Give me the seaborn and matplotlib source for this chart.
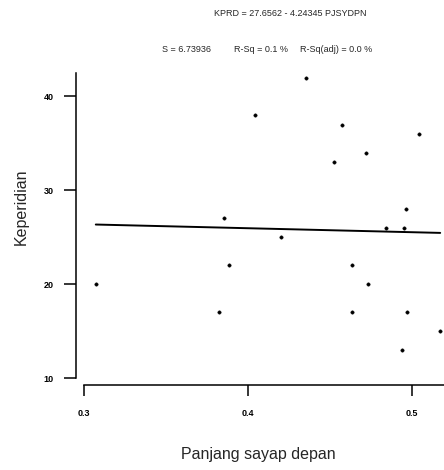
import matplotlib
matplotlib.use("Agg")
import matplotlib.pyplot as plt
import numpy as np
import pandas as pd
import seaborn as sns

# data
panjang_sayap = [0.307, 0.382, 0.385, 0.388, 0.404, 0.420, 0.435, 0.452, 0.457, 0.463,
                 0.463, 0.472, 0.473, 0.484, 0.4935, 0.495, 0.496, 0.497, 0.504, 0.517]
keperidian = [20, 17, 27, 22, 38, 25, 42, 33, 37, 22,
              17, 34, 20, 26, 13, 26, 28, 17, 36, 15]

# fitted line from the printed equation
intercept = 27.6562
slope = -4.24345

x_ticks = [0.3, 0.4, 0.5]
x_ticklabels = ["0.3", "0.4", "0.5"]
y_ticks = [10, 20, 30, 40]

sns.set_theme(style="white")
plt.rcParams["font.family"] = ["Liberation Sans", "DejaVu Sans"]

df = pd.DataFrame({"x": panjang_sayap, "y": keperidian})
x_line = np.array([min(panjang_sayap), max(panjang_sayap)])
line_df = pd.DataFrame({"x": x_line, "y": intercept + slope * x_line})

fig = plt.figure(figsize=(4.44, 4.70), dpi=100)
ax = fig.add_axes([84.3 / 444, 92 / 470, 1 - 84.3 / 444, 305 / 470])

sns.scatterplot(data=df, x="x", y="y", ax=ax, color="black", s=6,
                edgecolor="black", linewidth=0.3, clip_on=False)
sns.lineplot(data=line_df, x="x", y="y", ax=ax, color="black", linewidth=1.4)

ax.set_xlim(0.3, 0.3 + 359.7 / 1640)
ax.set_ylim(10, 42.5)

for side in ["top", "right"]:
    ax.spines[side].set_visible(False)
ax.spines["left"].set_position(("outward", 6))
ax.spines["bottom"].set_position(("outward", 5))
for side in ["left", "bottom"]:
    ax.spines[side].set_color("black")
    ax.spines[side].set_linewidth(1.1)

ax.set_xticks(x_ticks)
ax.set_xticklabels(x_ticklabels)
ax.set_yticks(y_ticks)
ax.tick_params(axis="both", which="both", direction="out", length=9, width=1.1,
               color="black", labelsize=6.5, labelcolor="black", bottom=True, left=True)
ax.tick_params(axis="y", pad=7)
ax.tick_params(axis="x", length=8, pad=9)
for lab in ax.get_xticklabels() + ax.get_yticklabels():
    lab.set_fontweight("bold")

ax.set_xlabel("")
ax.set_ylabel("")
fig.text(258 / 444, 1 - 455 / 470, "Panjang sayap depan", ha="center", va="center",
         fontsize=11.5)
fig.text(21 / 444, 1 - 207 / 470, "Keperidian", ha="center", va="center",
         rotation=90, fontsize=11.5)

fig.text(290 / 444, 1 - 14 / 470, "KPRD = 27.6562 - 4.24345 PJSYDPN", ha="center",
         va="center", fontsize=6.5)
fig.text(187 / 444, 1 - 49 / 470, "S = 6.73936", ha="center", va="center", fontsize=6.5)
fig.text(261 / 444, 1 - 49 / 470, "R-Sq = 0.1 %", ha="center", va="center", fontsize=6.5)
fig.text(336 / 444, 1 - 49 / 470, "R-Sq(adj) = 0.0 %", ha="center", va="center",
         fontsize=6.5)

fig.savefig("out.png", dpi=100)
